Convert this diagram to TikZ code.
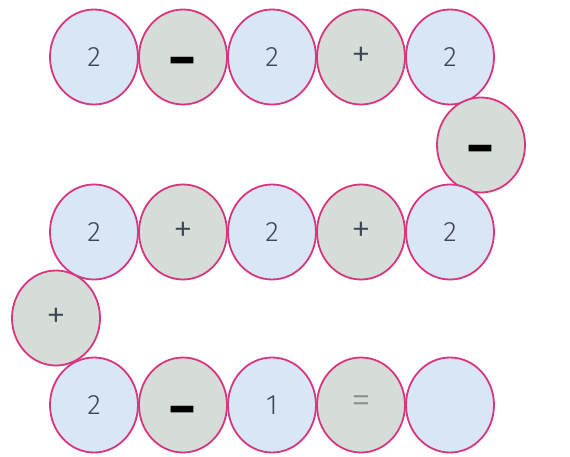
\documentclass[tikz,border=0pt]{standalone}
\usepackage{fontspec}
\setmainfont{Fira Sans}[UprightFont={* Light}, BoldFont={* Bold}]
\usepackage{tikz}
\usetikzlibrary{shapes.geometric}
\definecolor{ringpink}{HTML}{D8357F}
\definecolor{numblue}{HTML}{D9E6F5}
\definecolor{opgray}{HTML}{D6DDD8}
\definecolor{inkgray}{HTML}{3C4650}

\tikzset{
  ball/.style={ellipse, draw=ringpink, line width=1.8pt, minimum width=88pt, minimum height=95pt, inner sep=0pt, text=inkgray, font=\fontsize{28}{30}\selectfont},
  numball/.style={ball, fill=numblue},
  opball/.style={ball, fill=opgray, font=\fontsize{40}{40}\selectfont},
  minusball/.style={opball, text=black, font=\fontsize{54}{54}\selectfont\bfseries},
  eqball/.style={opball, text=gray!90}
}
\newcommand{\minusbar}{\raisebox{-22pt}[0pt][0pt]{−}}

\begin{document}
\begin{tikzpicture}[x=1pt, y=-1pt]
    \useasboundingbox[fill=white] (0,0) rectangle (570,457);
    % top row
    \node[numball] (a1) at (94,57) {2};
    \node[minusball] (a2) at (183,57) {\minusbar};
    \node[numball] (a3) at (272,57) {2};
    \node[opball] (a4) at (361,57) {+};
    \node[numball] (a5) at (450,57) {2};
    \node[minusball] (turnright) at (481,145) {\minusbar};
    % middle row
    \node[numball] (b5) at (450,232) {2};
    \node[opball] (b4) at (361,232) {+};
    \node[numball] (b3) at (272,232) {2};
    \node[opball] (b2) at (183,232) {+};
    \node[numball] (b1) at (94,232) {2};
    \node[opball] (turnleft) at (56,318) {+};
    % bottom row
    \node[numball] (c1) at (94,405) {2};
    \node[minusball] (c2) at (183,405) {\minusbar};
    \node[numball] (c3) at (272,405) {1};
    \node[eqball] (c4) at (361,405) {=};
    \node[numball] (c5) at (450,405) {};
  \end{tikzpicture}
\end{document}
